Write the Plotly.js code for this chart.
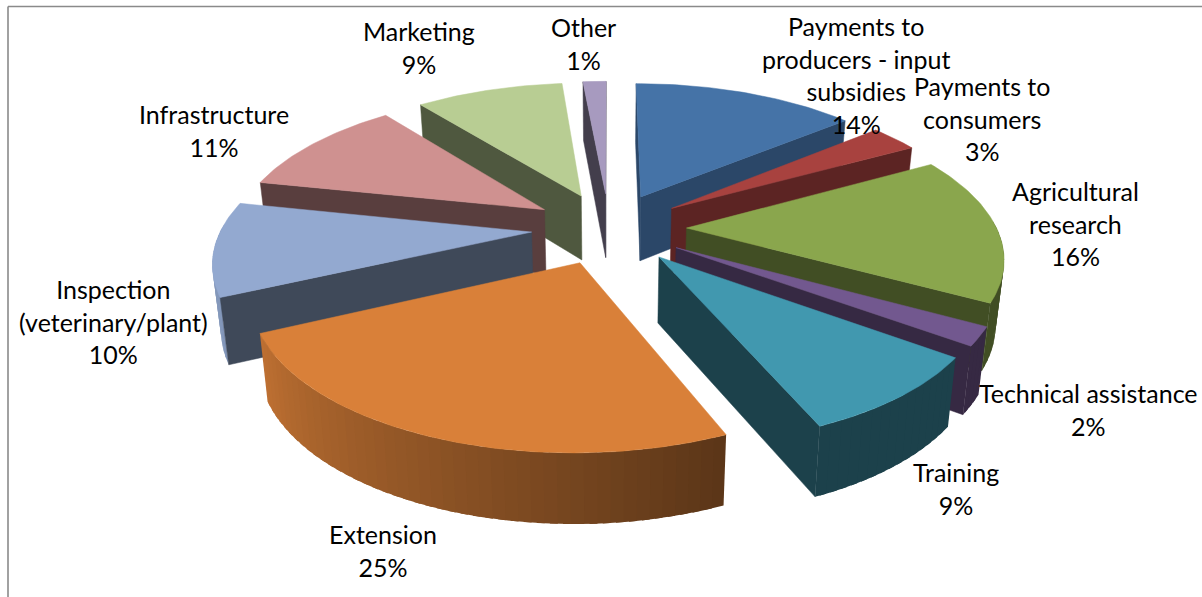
<!DOCTYPE html>
<html>
<head>
<meta charset="utf-8">
<script src="https://cdn.plot.ly/plotly-3.0.1.min.js"></script>
<style>html,body{margin:0;padding:0;background:#fff}#chart{width:1202px;height:597px}</style>
</head>
<body>
<div id="chart"></div>
<script>
// ---- data ----
const categories = ["Payments to<br>producers - input<br>subsidies", "Payments to<br>consumers", "Agricultural<br>research",
  "Technical assistance", "Training", "Extension", "Inspection<br>(veterinary/plant)", "Infrastructure", "Marketing", "Other"];
const shares = [14, 3, 16, 2, 8.6, 24.5, 10.2, 11, 9.25, 1.45];
// ---- styles ----
const topColors = [[69,115,167],[168,66,63],[138,166,77],[114,88,143],[65,152,175],[217,128,57],[147,169,208],[207,145,144],[184,205,147],[167,154,191]];
const wallShade = [0.62,0.55,0.47,0.47,0.43,0.42,0.43,0.43,0.43,0.4];
const labelX = [856,982,1075,1088,956,383,113,214,419,583];
const labelY = [75,118,223,409,488,550,321,130,47,43];
// ---- projection of the exploded tilted pie ----
const cx = 609, cy = 228, Sx = 310, Sy = 143, persp = 0.175, pull = 0.25;
const proj = (X, Y) => { const f = 1 / (1 - persp * Y); return [cx + Sx * X * f, cy + Sy * Y * f]; };
const drop = (p, Y) => [cx + (p[0] - cx) * 0.978, p[1] + 65 + 5 * Y];
const rad = d => d * Math.PI / 180;
const css = (c, s) => `rgb(${c.map(v => Math.round(v * s)).join(",")})`;
const traces = [];
const poly = (pts, color, edge) => traces.push({
  type: "scatter", mode: edge ? "lines" : "none", x: pts.map(p => p[0]), y: pts.map(p => p[1]),
  fill: "toself", fillcolor: color, line: {color: color, width: edge || 0}, hoverinfo: "skip", showlegend: false
});
const total = shares.reduce((a, b) => a + b, 0);
let run = 0;
const wedges = shares.map((v, i) => {
  const a0 = run / total * 360; run += v; const a1 = run / total * 360;
  const mid = (a0 + a1) / 2;
  return {i, a0, a1, mid, ox: pull * Math.sin(rad(mid)), oy: -pull * Math.cos(rad(mid))};
});
wedges.slice().sort((p, q) => (-Math.cos(rad(p.mid))) - (-Math.cos(rad(q.mid)))).forEach(w => {
  const col = topColors[w.i];
  const world = a => [w.ox + Math.sin(rad(a)), w.oy - Math.cos(rad(a))];
  const top = w_ => proj(w_[0], w_[1]);
  const bot = w_ => drop(proj(w_[0], w_[1]), w_[1]);
  const apex = [w.ox, w.oy];
  // outer wall in strips, shaded with the angle; each strip overlaps the next to hide seams
  const steps = Math.max(1, Math.ceil((w.a1 - w.a0) / 2));
  for (let k = 0; k < steps; k++) {
    const s0 = w.a0 + (w.a1 - w.a0) * k / steps;
    const s1 = Math.min(w.a1, w.a0 + (w.a1 - w.a0) * (k + 1.6) / steps);
    const m = (s0 + s1) / 2;
    if (m < 88 || m > 272) continue;
    const shade = Math.min(0.9, Math.max(wallShade[w.i], 0.42 + 0.48 * (m - 158) / 92));
    const r0 = world(s0), r1 = world(s1);
    poly([top(r0), top(r1), bot(r1), bot(r0), top(r0)], css(col, shade));
  }
  // radial walls
  [[w.a0, 1], [w.a1, -1]].forEach(([a, sign]) => {
    const r = world(a);
    const q = [top(apex), top(r), bot(r), bot(apex)];
    let area = 0;
    q.forEach((p, k) => { const n = q[(k + 1) % 4]; area += p[0] * n[1] - n[0] * p[1]; });
    if (area * sign < 0) poly(q.concat([q[0]]), css(col, wallShade[w.i]), 0.5);
  });
  // top face
  const face = [top(apex)];
  for (let a = w.a0; a < w.a1; a += 1) face.push(top(world(a)));
  face.push(top(world(w.a1)), top(apex));
  poly(face, css(col, 1), 0.5);
});
const annotations = categories.map((c, i) => ({
  x: labelX[i], y: labelY[i], xref: "x", yref: "y", xanchor: "center", yanchor: "middle",
  text: `${c}<br>${Math.round(shares[i])}%`, showarrow: false, align: "center",
  font: {family: "Lato, 'Open Sans', sans-serif", size: 25, color: "#000"}
}));
const layout = {
  width: 1202, height: 597, margin: {l: 0, r: 0, t: 0, b: 0},
  paper_bgcolor: "#fff", plot_bgcolor: "#fff", showlegend: false,
  xaxis: {range: [0, 1202], visible: false, fixedrange: true},
  yaxis: {range: [597, 0], visible: false, fixedrange: true},
  annotations,
  shapes: [
    {type: "line", xref: "x", yref: "y", x0: 8, x1: 8, y0: 6.5, y1: 597, line: {color: "#8a8a8a", width: 1.6}},
    {type: "line", xref: "x", yref: "y", x0: 8, x1: 1202, y0: 6.5, y1: 6.5, line: {color: "#8a8a8a", width: 1.6}}
  ]
};
Plotly.newPlot("chart", traces, layout, {displayModeBar: false, staticPlot: true});
</script>
</body>
</html>
